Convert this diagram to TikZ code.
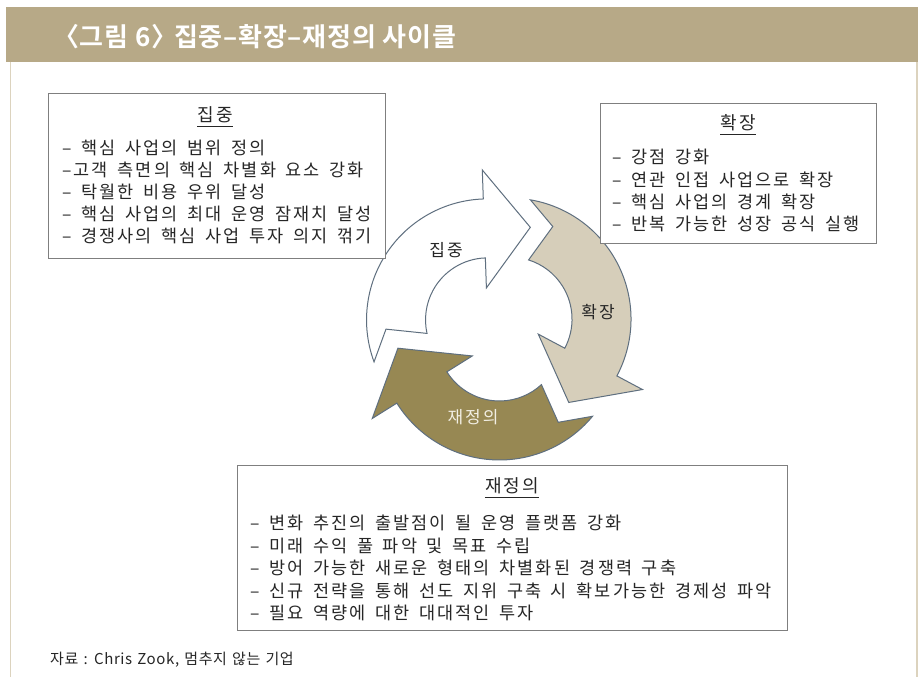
\documentclass[tikz,border=0pt]{standalone}
\usepackage{fontspec}
\setmainfont{Noto Sans CJK KR}
\newfontfamily\bodyfont{Noto Sans CJK KR}[LetterSpace=12,WordSpace=1.6]
\newfontfamily\capfont{Noto Sans CJK KR}[LetterSpace=4,WordSpace=1.3]
\newfontfamily\titlefont{Noto Sans CJK KR Bold}[LetterSpace=3]
\definecolor{band}{HTML}{B7A987}
\definecolor{beigeA}{HTML}{D6CEBA}
\definecolor{oliveA}{HTML}{978853}
\definecolor{edgeA}{HTML}{5F6F7F}
\definecolor{boxline}{HTML}{7F7F7F}
\definecolor{sideline}{HTML}{DCD3BE}
\definecolor{txt}{HTML}{262626}
\definecolor{cream}{HTML}{F2EFE4}
\tikzset{
  boxst/.style={draw=boxline, line width=1.1pt, fill=white, inner sep=0pt, anchor=north west},
  linest/.style={anchor=base west, inner sep=0pt, text=txt, font=\bodyfont\fontsize{17.5}{17.5}\selectfont},
  headst/.style={anchor=base, inner sep=0pt, text=txt, font=\bodyfont\fontsize{18}{18}\selectfont},
  arrowst/.style={draw=edgeA, line width=1pt, line join=miter},
  lblst/.style={inner sep=0pt, font=\bodyfont\fontsize{17}{17}\selectfont}
}
\def\cyclepath{(198.3:121pt) arc[start angle=198.3, end angle=90, radius=121pt]
  -- (0pt,150pt) -- (46pt,91pt) -- (0pt,32pt) -- (0pt,62pt)
  arc[start angle=90, end angle=190.6, radius=62pt] -- (-101.8pt,-5.7pt) -- cycle}
\begin{document}
\begin{tikzpicture}[x=1pt,y=1pt]
\useasboundingbox (0,0) rectangle (918,677);
\fill[white] (0,0) rectangle (918,677);
% header band and side rules
\fill[band] (6,615) rectangle (918,670);
\draw[sideline, line width=1.6pt] (10.5,615) -- (10.5,0);
\draw[sideline, line width=2pt] (916.5,615) -- (916.5,0);
\node[anchor=west, inner sep=0pt, text=white, font=\titlefont\fontsize{26}{26}\selectfont] (title) at (53,640) {〈그림 6〉\kern-0.38em\ 집중–확장–재정의 사이클};

% cycle arrows
\begin{scope}[shift={(499,351)}, rotate=2, shift={(150:13pt)}]
  \filldraw[arrowst, fill=white] \cyclepath;
\end{scope}
\begin{scope}[shift={(499,351)}, rotate=-118, shift={(150:13pt)}]
  \filldraw[arrowst, fill=beigeA] \cyclepath;
\end{scope}
\begin{scope}[shift={(499,351)}, rotate=-238, shift={(150:13pt)}]
  \filldraw[arrowst, fill=oliveA] \cyclepath;
\end{scope}
\node[lblst, text=txt] (lfocus) at (446,427) {집중};
\node[lblst, text=txt] (lexpand) at (598,365) {확장};
\node[lblst, text=cream] (lredef) at (473,260) {재정의};

% box 1
\node[boxst, minimum width=337pt, minimum height=165pt] (focusbox) at (48,584) {};
\node[headst] (focustitle) at (215,555) {집중};
\draw[txt, line width=0.9pt] ([yshift=-4.5pt]focustitle.base west) -- ([yshift=-4.5pt]focustitle.base east);
\foreach \t [count=\i from 0] in {– 핵심 사업의 범위 정의, –고객 측면의 핵심 차별화 요소 강화, – 탁월한 비용 우위 달성, – 핵심 사업의 최대 운영 잠재치 달성, – 경쟁사의 핵심 사업 투자 의지 꺾기}
  \node[linest] (focusline\i) at (62,522-21.8*\i) {\t};

% box 2
\node[boxst, minimum width=276pt, minimum height=140pt] (expandbox) at (600,574) {};
\node[headst] (expandtitle) at (738,547) {확장};
\draw[txt, line width=0.9pt] ([yshift=-4.5pt]expandtitle.base west) -- ([yshift=-4.5pt]expandtitle.base east);
\foreach \t [count=\i from 0] in {– 강점 강화, – 연관 인접 사업으로 확장, – 핵심 사업의 경계 확장, – 반복 가능한 성장 공식 실행}
  \node[linest] (expandline\i) at (612,513-22.3*\i) {\t};

% box 3
\node[boxst, minimum width=550pt, minimum height=165pt] (redefbox) at (237,212) {};
\node[headst] (redeftitle) at (512,184) {재정의};
\draw[txt, line width=0.9pt] ([yshift=-4.5pt]redeftitle.base west) -- ([yshift=-4.5pt]redeftitle.base east);
\foreach \t [count=\i from 0] in {– 변화 추진의 출발점이 될 운영 플랫폼 강화, – 미래 수익 풀 파악 및 목표 수립, – 방어 가능한 새로운 형태의 차별화된 경쟁력 구축, – 신규 전략을 통해 선도 지위 구축 시 확보가능한 경제성 파악, – 필요 역량에 대한 대대적인 투자}
  \node[linest] (redefline\i) at (250,147-22.5*\i) {\t};

% source
\node[anchor=base west, inner sep=0pt, text=txt, font=\capfont\fontsize{15}{15}\selectfont] (source) at (50,12) {자료 : Chris Zook, 멈추지 않는 기업};
\end{tikzpicture}
\end{document}
